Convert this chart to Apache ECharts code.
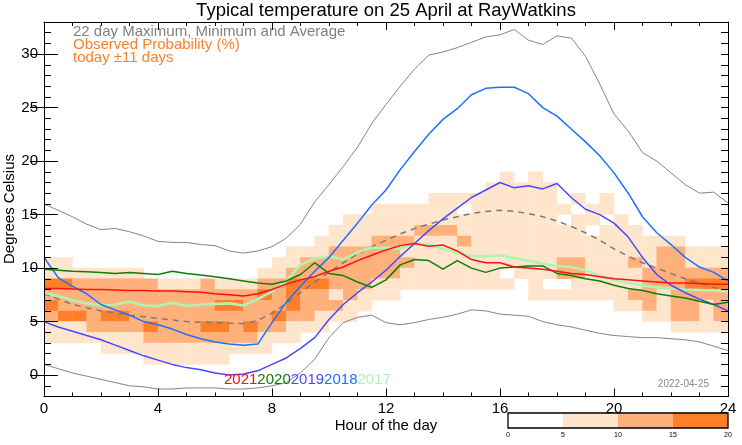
<!DOCTYPE html>
<html><head><meta charset="utf-8">
<script src="https://cdn.jsdelivr.net/npm/echarts@6/dist/echarts.min.js"></script>
<style>html,body{margin:0;padding:0;background:#fff}#c{width:742px;height:445px}</style>
</head><body><div id="c"></div>
<script>
// ---------------- data ----------------
const hours = [0,0.5,1,1.5,2,2.5,3,3.5,4,4.5,5,5.5,6,6.5,7,7.5,8,8.5,9,9.5,10,10.5,11,11.5,12,12.5,13,13.5,14,14.5,15,15.5,16,16.5,17,17.5,18,18.5,19,19.5,20,20.5,21,21.5,22,22.5,23,23.5,24];
const maxT = [16.0,15.4,14.8,14.1,13.6,13.7,13.4,13.0,12.5,12.4,12.4,12.2,12.1,11.6,11.4,11.6,12.0,12.8,14.1,16.2,17.8,19.5,21.3,23.5,25.3,27.0,28.6,29.9,30.2,30.6,31.1,31.6,31.8,32.3,31.3,30.9,31.7,31.5,29.8,27.2,24.4,22.8,20.8,20.0,18.9,17.8,17.0,17.1,16.1];
const minT = [1.0,0.6,0.2,-0.1,-0.4,-0.7,-1.0,-1.1,-1.3,-1.3,-1.2,-1.2,-1.2,-1.3,-1.3,-1.2,-1.0,-0.7,0.2,1.5,3.5,4.9,5.4,5.6,4.9,4.7,4.9,5.2,5.4,5.7,6.1,6.0,5.7,5.6,5.5,5.0,4.7,4.5,4.2,3.9,3.7,3.6,3.5,3.5,3.4,3.3,3.1,2.7,2.3];
const avgT = [7.6,7.1,6.6,6.3,6.0,5.8,5.6,5.45,5.3,5.15,5.0,4.95,4.9,4.85,4.8,5.1,5.8,6.7,7.7,8.7,9.6,10.5,11.3,12.0,12.6,13.2,13.7,14.1,14.5,14.8,15.1,15.3,15.4,15.3,15.1,14.8,14.4,13.9,13.3,12.6,11.8,11.1,10.5,10.0,9.5,9.0,8.6,8.2,7.9];
const y2021 = [8.1,8.1,8.05,8.0,8.0,7.95,7.9,7.9,7.85,7.85,7.8,7.75,7.6,7.5,7.4,7.6,8.0,8.5,8.9,9.2,9.7,10.1,10.7,11.2,11.7,12.1,12.3,12.05,12.15,11.6,10.8,10.5,10.5,10.1,10.0,9.9,9.7,9.5,9.4,9.2,9.0,8.9,8.8,8.7,8.6,8.6,8.55,8.5,8.5];
const y2020 = [9.9,9.8,9.7,9.65,9.6,9.5,9.6,9.5,9.4,9.7,9.5,9.35,9.2,9.0,8.8,8.6,8.5,8.8,9.4,10.5,9.5,9.3,8.7,8.2,8.9,10.3,10.8,10.7,9.9,10.7,10.0,9.6,10.0,10.1,10.2,10.2,9.5,9.3,9.0,8.8,8.4,8.1,7.9,7.6,7.4,7.2,6.9,6.6,6.8];
const y2019 = [5.0,4.5,4.1,3.7,3.3,2.8,2.3,1.8,1.4,1.0,0.7,0.5,0.2,0.0,0.1,0.4,1.0,1.6,2.5,3.5,5.2,6.6,7.7,8.7,9.8,11.1,12.3,13.5,14.6,15.6,16.6,17.3,18.0,17.5,17.7,17.4,17.9,16.6,15.5,15.0,14.2,12.9,11.0,9.4,8.4,7.7,7.1,6.6,6.0];
const y2018 = [11.0,9.1,8.3,7.6,6.6,6.1,5.6,5.0,4.7,4.3,3.8,3.4,3.1,2.9,2.8,2.9,4.9,6.8,8.3,9.7,11.0,12.6,14.2,15.9,17.3,19.2,20.9,22.5,23.9,24.9,26.2,26.8,26.9,26.9,26.3,25.0,24.2,23.0,21.8,20.5,18.9,17.0,14.8,13.3,12.2,11.0,10.1,9.6,8.8];
const y2017 = [7.7,7.4,7.0,6.7,6.5,6.6,6.85,6.5,6.45,6.75,6.45,6.6,6.65,6.7,6.5,7.1,7.8,8.8,10.3,10.9,11.1,10.8,11.5,11.9,11.9,11.8,12.3,12.2,11.8,11.4,11.1,11.1,11.2,10.95,10.7,10.4,10.2,10.1,9.8,9.3,8.9,8.6,8.4,8.2,8.1,8.0,7.95,7.9,7.85];

// observed probability (%) per 0.5 h x 1 degree cell; digit = band index of probBands
const probBands = [0, 5, 10, 15, 20];
const probRowTemps = [18,17,16,15,14,13,12,11,10,9,8,7,6,5,4,3,2,1];
const probRows = [
 "00000000 00000000 00000000 00000000 10100000 00000000",
 "00000000 00000000 00000000 00000001 11110000 00000000",
 "00000000 00000000 00000000 00011111 11110101 00000000",
 "00000000 00000000 00000001 11111011 11111011 00000000",
 "00000000 00000000 00000111 11111111 11110110 10000000",
 "00000000 00000000 00001111 11222111 11111101 11000000",
 "00000000 00000000 00011112 22111211 11111111 11111000",
 "00000000 00000000 01112222 21111111 11111111 11122111",
 "11000000 00000000 11222222 22111111 11112211 12122111",
 "11111110 00000001 12222222 21111111 01112211 11222222",
 "33222222 11121112 23332221 11111111 10100111 11222333",
 "22222222 22222223 23221211 10000000 00111111 12212222",
 "32222222 22223322 23222110 00000000 00000000 11212212",
 "23323322 22222222 32211100 00000000 00000000 00112212",
 "11122223 22233232 21110000 00000000 00000000 00001111",
 "11111112 22222221 11000000 00000000 00000000 00000000",
 "00001111 11111111 00000000 00000000 00000000 00000000",
 "00000001 11111000 00000000 00000000 00000000 00000000"
];
const yTickLabels = [0,5,10,15,20,25,30];
const xTickLabels = [0,4,8,12,16,20,24];
const yearLabels = ['2021','2020','2019','2018','2017'];

// ---------------- styles ----------------
const FONT = '"Liberation Sans", Arial, Helvetica, sans-serif';
const bandColors = ['#ffffff', '#ffe5cb', '#ffb07b', '#ff7f2a'];
const yearColors = {'2021':'#ff1010','2020':'#0a800a','2019':'#4848ff','2018':'#1e70ff','2017':'#b2f2b2'};
const GRAY = '#858585';

const cells = [];
probRows.forEach((row, ri) => {
  const s = row.replace(/ /g, '');
  for (let c = 0; c < s.length; c++) {
    const lvl = +s[c];
    if (lvl > 0) cells.push([c * 0.5, probRowTemps[ri], lvl]);
  }
});
const pairs = arr => hours.map((h, i) => [h, arr[i]]);

function lineSeries(name, arr, color, width, extra) {
  return Object.assign({
    name, type: 'line', data: pairs(arr), showSymbol: false, symbol: 'none',
    lineStyle: {color, width}, xAxisIndex: 0, yAxisIndex: 0, z: 3, silent: true
  }, extra || {});
}

const chart = echarts.init(document.getElementById('c'), null, {renderer: 'canvas'});
const axisLine = {show: true, onZero: false, lineStyle: {color: '#000', width: 1}};
const option = {
  animation: false,
  backgroundColor: '#fff',
  textStyle: {fontFamily: FONT},
  grid: [
    {left: 44, right: 14, top: 22, bottom: 48.5, containLabel: false, outerBoundsMode: 'none'},
    {left: 508, top: 413, width: 220, height: 15, containLabel: false, outerBoundsMode: 'none'}
  ],
  xAxis: [
    {type: 'value', gridIndex: 0, position: 'bottom', min: 0, max: 24, interval: 4,
     axisLine, axisTick: {show: true, inside: true, length: 8, lineStyle: {color: '#000'}},
     minorTick: {show: true, splitNumber: 4, length: 4, lineStyle: {color: '#000'}},
     axisLabel: {color: '#000', fontSize: 15, margin: 5, fontFamily: FONT,
       customValues: xTickLabels},
     splitLine: {show: false}, minorSplitLine: {show: false}, z: 10},
    {type: 'value', gridIndex: 0, position: 'top', min: 0, max: 24, interval: 4,
     axisLine, axisTick: {show: true, inside: true, length: 8, lineStyle: {color: '#000'}},
     minorTick: {show: true, splitNumber: 4, length: 4, lineStyle: {color: '#000'}},
     axisLabel: {show: false}, splitLine: {show: false}, z: 10},
    {type: 'value', gridIndex: 1, min: 0, max: 20, interval: 5,
     axisLine: {show: false}, axisTick: {show: false},
     axisLabel: {color: '#000', fontSize: 7, margin: 4, fontFamily: FONT},
     splitLine: {show: false}}
  ],
  yAxis: [
    {type: 'value', gridIndex: 0, position: 'left', min: -2, max: 33, interval: 1,
     axisLine, axisTick: {show: true, inside: true, length: 7, lineStyle: {color: '#000'}},
     axisLabel: {color: '#000', fontSize: 15, margin: 6, fontFamily: FONT,
       customValues: yTickLabels},
     splitLine: {show: false}, z: 10},
    {type: 'value', gridIndex: 0, position: 'left', min: -2, max: 33, interval: 1,
     axisLine: {show: false},
     axisTick: {show: true, inside: true, length: 14, customValues: yTickLabels, lineStyle: {color: '#000'}},
     axisLabel: {show: false}, splitLine: {show: false}, z: 10},
    {type: 'value', gridIndex: 0, position: 'right', min: -2, max: 33, interval: 1,
     axisLine, axisTick: {show: true, inside: true, length: 7, lineStyle: {color: '#000'}},
     axisLabel: {show: false}, splitLine: {show: false}, z: 10},
    {type: 'value', gridIndex: 0, position: 'right', min: -2, max: 33, interval: 1,
     axisLine: {show: false},
     axisTick: {show: true, inside: true, length: 14, customValues: yTickLabels, lineStyle: {color: '#000'}},
     axisLabel: {show: false}, splitLine: {show: false}, z: 10},
    {type: 'value', gridIndex: 1, min: 0, max: 1, show: false}
  ],
  series: [
    {type: 'custom', name: 'prob', xAxisIndex: 0, yAxisIndex: 0, data: cells, z: 1, silent: true, clip: true,
     renderItem(params, api) {
       const x0 = api.value(0), t0 = api.value(1), lvl = api.value(2);
       const p0 = api.coord([x0, t0 + 1]);
       const p1 = api.coord([x0 + 0.5, t0]);
       return {type: 'rect', shape: {x: p0[0] - 0.25, y: p0[1] - 0.25, width: p1[0] - p0[0] + 0.5, height: p1[1] - p0[1] + 0.5},
               style: {fill: bandColors[lvl], stroke: null}};
     }},
    lineSeries('max', maxT, GRAY, 1),
    lineSeries('min', minT, GRAY, 1),
    lineSeries('avg', avgT, '#7a7a7a', 1.5, {lineStyle: {color: '#7a7a7a', width: 1.5, type: [6, 5]}}),
    lineSeries('2017', y2017, yearColors['2017'], 2.6),
    lineSeries('2018', y2018, yearColors['2018'], 1.5),
    lineSeries('2019', y2019, yearColors['2019'], 1.5),
    lineSeries('2020', y2020, yearColors['2020'], 1.5),
    lineSeries('2021', y2021, yearColors['2021'], 1.5),
    {type: 'custom', name: 'colorbar', xAxisIndex: 2, yAxisIndex: 4, silent: true,
     data: probBands.slice(0, -1).map((b, i) => [b, probBands[i + 1], i]),
     renderItem(params, api) {
       const p0 = api.coord([api.value(0), 1]);
       const p1 = api.coord([api.value(1), 0]);
       return {type: 'rect', shape: {x: p0[0], y: p0[1], width: p1[0] - p0[0], height: p1[1] - p0[1]},
               style: {fill: bandColors[api.value(2)]}};
     }},
    {type: 'custom', name: 'colorbarFrame', xAxisIndex: 2, yAxisIndex: 4, silent: true, z: 5,
     data: [[probBands[0], probBands[probBands.length - 1]]],
     renderItem(params, api) {
       const p0 = api.coord([api.value(0), 1]);
       const p1 = api.coord([api.value(1), 0]);
       return {type: 'rect', shape: {x: p0[0], y: p0[1], width: p1[0] - p0[0], height: p1[1] - p0[1]},
               style: {fill: null, stroke: '#000', lineWidth: 1.3}};
     }}
  ],
  graphic: [
    {type: 'text', x: 386, y: 11, style: {text: 'Typical temperature on 25 April at RayWatkins',
      font: '18.5px ' + FONT, fill: '#000', align: 'center', verticalAlign: 'middle'}},
    {type: 'text', x: 73, y: 31.5, style: {text: '22 day Maximum, Minimum and Average',
      font: '15px ' + FONT, fill: '#808080', align: 'left', verticalAlign: 'middle'}},
    {type: 'text', x: 73, y: 45, style: {text: 'Observed Probability (%)',
      font: '15px ' + FONT, fill: '#ff7f2a', align: 'left', verticalAlign: 'middle'}},
    {type: 'text', x: 73, y: 57.5, style: {text: 'today \u00b111 days',
      font: '15px ' + FONT, fill: '#ff7f2a', align: 'left', verticalAlign: 'middle'}},
    {type: 'text', x: 386, y: 426, style: {text: 'Hour of the day',
      font: '15px ' + FONT, fill: '#000', align: 'center', verticalAlign: 'middle'}},
    {type: 'text', x: 10, y: 209, rotation: Math.PI / 2,
      style: {text: 'Degrees Celsius',
      font: '15px ' + FONT, fill: '#000', align: 'center', verticalAlign: 'middle'}},
    {type: 'text', x: 224, y: 380, z: 20, style: {
      text: yearLabels.map(y => '{y' + y + '|' + y + '}').join(''),
      rich: Object.fromEntries(yearLabels.map(y => ['y' + y, {fill: yearColors[y], font: '15px ' + FONT}])),
      align: 'left', verticalAlign: 'middle'}},
    {type: 'text', x: 709, y: 384, z: 20, style: {text: '2022-04-25',
      font: '10px ' + FONT, fill: '#8a8a8a', align: 'right', verticalAlign: 'middle'}}
  ]
};
chart.setOption(option);
</script>
</body></html>
